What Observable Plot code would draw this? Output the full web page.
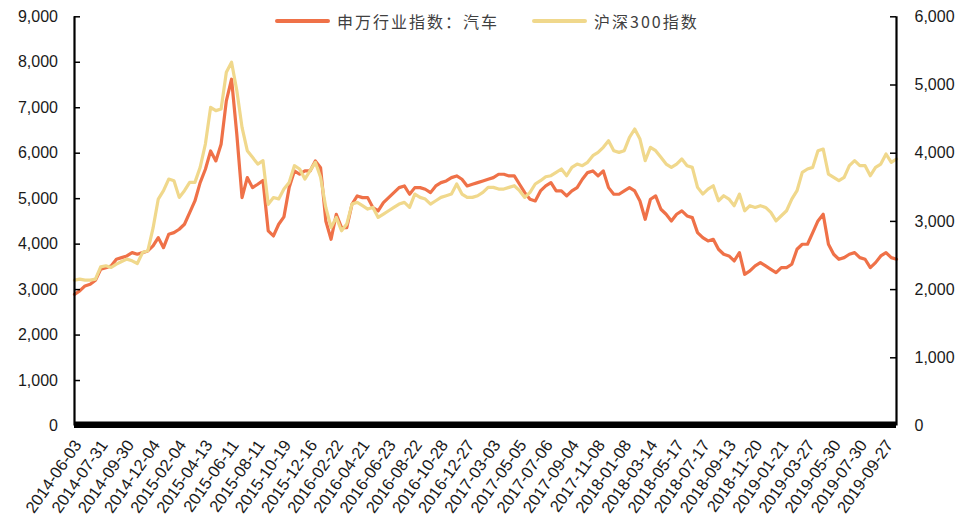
<!DOCTYPE html>
<html lang="zh">
<head>
<meta charset="utf-8">
<title>申万行业指数：汽车 vs 沪深300指数</title>
<script src="https://cdn.jsdelivr.net/npm/d3@7"></script>
<script src="https://cdn.jsdelivr.net/npm/@observablehq/plot@0.6"></script>
<style>
  html, body { margin: 0; padding: 0; background: #fff; }
  #wrap { position: relative; width: 978px; height: 526px; overflow: hidden; }
  #legend {
    position: absolute; top: 10px; left: 275px; display: flex; align-items: center;
    font-family: "Noto Sans CJK SC", "Noto Sans", sans-serif; font-size: 16px;
    color: #404040; letter-spacing: 2px; line-height: 22px;
  }
  .item { display: flex; align-items: center; margin-right: 33px; }
  .swatch { width: 55px; height: 4px; border-radius: 2px; margin-right: 7px; }
</style>
</head>
<body>
<div id="wrap"><div id="legend"></div></div>
<script>
// Series names
const seriesNames = ["申万行业指数：汽车", "沪深300指数"];
const seriesColors = ["#EF7148", "#F0D88C"];

// X-axis labels (one every 5 samples)
const tickDates = [
  "2014-06-03","2014-07-31","2014-09-30","2014-12-04","2015-02-04","2015-04-13",
  "2015-06-11","2015-08-11","2015-10-19","2015-12-16","2016-02-22","2016-04-21",
  "2016-06-23","2016-08-22","2016-10-28","2016-12-27","2017-03-03","2017-05-05",
  "2017-07-06","2017-09-04","2017-11-08","2018-01-08","2018-03-14","2018-05-17",
  "2018-07-17","2018-09-13","2018-11-20","2019-01-21","2019-03-27","2019-05-30",
  "2019-07-30","2019-09-27"
];

// 申万行业指数：汽车 (left axis)
const autoIndex = [
  2897,2970,3080,3117,3205,3447,3483,3520,3667,3703,
  3740,3813,3777,3813,3850,3960,4143,3923,4217,4253,
  4327,4437,4693,4950,5353,5647,6050,5830,6197,7150,
  7627,6417,5023,5463,5243,5317,5400,4290,4180,4437,
  4600,5243,5610,5537,5610,5610,5830,5683,4510,4107,
  4657,4363,4363,4877,5060,5023,5023,4803,4730,4913,
  5023,5133,5243,5280,5097,5243,5243,5207,5133,5280,
  5353,5390,5463,5500,5427,5280,5317,5353,5390,5427,
  5463,5537,5537,5500,5500,5317,5133,4987,4950,5170,
  5280,5353,5170,5170,5060,5170,5243,5427,5573,5610,
  5500,5610,5243,5097,5097,5170,5243,5170,4950,4547,
  4987,5060,4767,4657,4510,4657,4730,4620,4583,4253,
  4143,4070,4107,3887,3777,3740,3630,3813,3337,3410,
  3520,3593,3520,3447,3373,3483,3483,3557,3887,3997,
  3997,4253,4510,4657,3997,3777,3667,3703,3777,3813,
  3703,3667,3483,3593,3740,3813,3703,3667
];

// 沪深300指数 (right axis)
const hs300 = [
  2139,2154,2139,2139,2154,2334,2349,2324,2373,2412,
  2447,2422,2383,2544,2569,2900,3328,3450,3621,3597,
  3352,3450,3572,3572,3792,4135,4673,4624,4649,5187,
  5334,4918,4379,4037,3939,3841,3890,3250,3350,3330,
  3474,3572,3817,3768,3621,3743,3866,3646,3205,2912,
  3058,2863,2961,3254,3279,3230,3181,3205,3058,3107,
  3156,3205,3254,3279,3205,3401,3352,3327,3254,3303,
  3352,3376,3401,3548,3401,3352,3352,3376,3425,3499,
  3499,3474,3474,3499,3523,3450,3352,3425,3548,3597,
  3655,3670,3719,3768,3670,3792,3841,3817,3866,3964,
  4012,4086,4184,4037,4012,4037,4233,4355,4208,3890,
  4086,4037,3939,3841,3792,3841,3915,3817,3792,3499,
  3401,3474,3523,3303,3376,3327,3230,3401,3156,3230,
  3205,3230,3205,3132,3009,3083,3156,3327,3450,3719,
  3768,3792,4037,4061,3694,3646,3597,3646,3817,3890,
  3817,3817,3670,3792,3841,3988,3866,3915
];

const leftTicks = [0,1000,2000,3000,4000,5000,6000,7000,8000,9000];
const rightTicks = [0,1000,2000,3000,4000,5000,6000];
const samplesPerTick = 5;

const leftMax = 9000, rightMax = 6000;
const k = leftMax / rightMax;           // right-axis values drawn on the left scale
const N = autoIndex.length;
const data = autoIndex.map((v, i) => ({i, auto: v, hs: hs300[i]}));

const width = 978, height = 526;
const marginLeft = 74, marginRight = 82, marginTop = 16.3, marginBottom = 100.5;
const plotW = width - marginLeft - marginRight;
const fmt = d3.format(",");
const axisFont = "'Liberation Sans', Arial, sans-serif";

const chart = Plot.plot({
  width, height, marginLeft, marginRight, marginTop, marginBottom,
  style: {fontFamily: axisFont, background: "transparent", color: "#1a1a1a", overflow: "visible"},
  x: {domain: [0, N - 1], axis: null},
  y: {domain: [0, leftMax], axis: null},
  marks: [
    Plot.lineY(data, {x: "i", y: "auto", stroke: seriesColors[0], strokeWidth: 3.2, strokeLinejoin: "round"}),
    Plot.lineY(data, {x: "i", y: d => d.hs * k, stroke: seriesColors[1], strokeWidth: 3.2, strokeLinejoin: "round"}),
    // axis lines
    Plot.ruleX([0, N - 1], {y1: 0, y2: leftMax, stroke: "#000", strokeWidth: 2.2}),
    // inward ticks
    Plot.tickY(leftTicks, {y: d => d, insetRight: plotW - 6, stroke: "#000", strokeWidth: 1.5}),
    Plot.tickY(rightTicks, {y: d => d * k, insetLeft: plotW - 6, stroke: "#000", strokeWidth: 1.5}),
    // heavy category baseline
    Plot.ruleY([0], {x1: 0, x2: N - 1, stroke: "#000", strokeWidth: 6.5, dy: -1.2}),
    Plot.axisY({anchor: "left", label: null, ticks: leftTicks, tickSize: 0, tickPadding: 16.5,
      tickFormat: fmt, fontSize: 16, fill: "#1a1a1a"}),
    Plot.axisY({anchor: "right", label: null, ticks: rightTicks.map(v => v * k), tickSize: 0, tickPadding: 18,
      tickFormat: v => fmt(Math.round(v / k)), fontSize: 16, fill: "#1a1a1a"}),
    Plot.axisX({label: null, ticks: tickDates.map((_, j) => j * samplesPerTick), tickSize: 0, tickRotate: -55,
      tickPadding: 16, dx: 3.5, tickFormat: i => tickDates[i / samplesPerTick],
      fontSize: 16.5, fill: "#1a1a1a"})
  ]
});

const wrap = document.getElementById("wrap");
wrap.insertBefore(chart, wrap.firstChild);

// legend
const legend = d3.select("#legend");
seriesNames.forEach((name, j) => {
  const item = legend.append("div").attr("class", "item");
  item.append("div").attr("class", "swatch").style("background", seriesColors[j]);
  item.append("span").text(name);
});
</script>
</body>
</html>
